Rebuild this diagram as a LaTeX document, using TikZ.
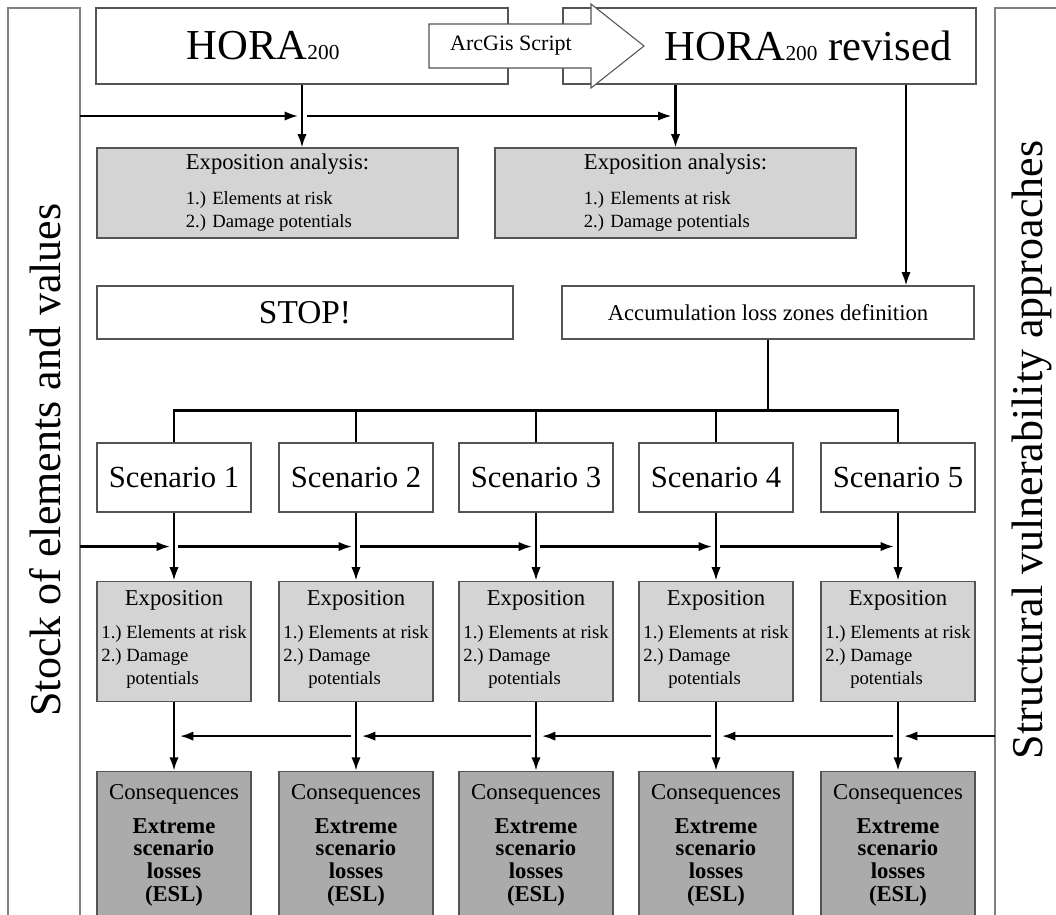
\documentclass[tikz,border=0pt]{standalone}
\usepackage{fontspec}
\setmainfont{Liberation Serif}
\usetikzlibrary{arrows.meta, positioning, calc}
\newlength{\unitpx}
\setlength{\unitpx}{0.75pt}
\tikzstyle{plainbox} = [rectangle, draw=black!67, line width=0.8pt, fill=white, inner sep=0pt]
\tikzstyle{horabox} = [plainbox, minimum width=412\unitpx, minimum height=76\unitpx, font=\fontsize{32}{32}\selectfont]
\tikzstyle{widebox} = [plainbox, minimum width=416\unitpx, minimum height=53\unitpx]
\tikzstyle{expobig} = [plainbox, fill=black!17, minimum width=361\unitpx, minimum height=90\unitpx, align=left, font=\fontsize{14}{17.25}\selectfont]
\tikzstyle{scen} = [plainbox, minimum width=154\unitpx, minimum height=69\unitpx, font=\fontsize{23}{23}\selectfont]
\tikzstyle{expo} = [plainbox, fill=black!17, minimum width=154\unitpx, minimum height=120\unitpx, align=center, font=\fontsize{14}{17.25}\selectfont]
\tikzstyle{cons} = [plainbox, fill=black!33, minimum width=154\unitpx, minimum height=148\unitpx, align=center, font=\fontsize{17}{17}\selectfont]
\tikzstyle{flow} = [line width=1.6pt, -{Latex[length=10pt, width=7pt]}]
\tikzstyle{bus} = [line width=1.6pt]
\tikzstyle{panel} = [draw=black!50, line width=1.1pt]
\tikzstyle{side} = [rotate=90, inner sep=0pt, font=\fontsize{33}{33}\selectfont]
\newcommand{\hora}{HORA{\fontsize{16}{16}\selectfont 200}}
\newcommand{\expolist}{{\fontsize{17}{17}\selectfont Exposition}\\[8pt]\begin{tabular}[t]{@{}l@{\ }l@{}}1.)&Elements at risk\\2.)&Damage\\&potentials\end{tabular}}
\newcommand{\esltext}{Consequences\\[8.5pt]\textbf{Extreme}\\\textbf{scenario}\\\textbf{losses}\\\textbf{(ESL)}}
\begin{document}
\begin{tikzpicture}[x=0.75pt, y=-0.75pt]
\useasboundingbox (0,0) rectangle (1056,914);
\clip (0,0) rectangle (1056,914);

% side panels
\draw[panel] (8,930) |- (80,8) -- (80,930);
\draw[panel] (995,930) |- (1070,8);
\coordinate (panel-l) at (80,0);
\coordinate (panel-r) at (995,0);
\node[side] (stock) at (45.5,460) {Stock of elements and values};
\node[side] (struct) at (1032,450) {Structural vulnerability approaches};

% hazard maps
\node[horabox] (hora) at (302,46) {\hora\hspace*{78\unitpx}};
\node[horabox, minimum width=413\unitpx] (hora-rev) at (769.5,46) {\hspace*{77\unitpx}\hora{} revised};
\draw[draw=black!67, line width=0.8pt, fill=white] (429,24) -- (591,24) -- (591,4) -- (644,46) -- (591,88) -- (591,68) -- (429,68) -- cycle;
\node[font=\fontsize{16.5}{16.5}\selectfont] (arcgis) at (511,46) {ArcGis Script};

\node[expobig] (exp-a) at (277.5,193) {{\fontsize{17}{17}\selectfont Exposition analysis:}\\[9pt]1.) Elements at risk\\2.) Damage potentials};
\node[expobig] (exp-b) at (675.5,193) {{\fontsize{17}{17}\selectfont Exposition analysis:}\\[9pt]1.) Elements at risk\\2.) Damage potentials};

\node[widebox, font=\fontsize{25}{25}\selectfont] (stop) at (305,312.5) {STOP!};
\node[widebox, minimum width=412\unitpx, font=\fontsize{17}{17}\selectfont] (accum) at (768,312.5) {Accumulation loss zones definition};

\coordinate (t-1) at ($(hora.south)!0.5!(hora.south |- exp-a.north)$);
\coordinate (t-2) at (exp-b.north |- t-1);
\draw[flow] (hora.south) -- (hora.south |- exp-a.north);
\draw[flow] (exp-b.north |- hora-rev.south) -- (exp-b.north);
\draw[flow] ([xshift=136.5\unitpx]hora-rev.south) -- ([xshift=136.5\unitpx]hora-rev.south |- accum.north);
\draw[flow, shorten >=4\unitpx] (panel-l |- t-1) -- (t-1);
\draw[flow, shorten <=5\unitpx, shorten >=4\unitpx] (t-1) -- (t-2);

% scenarios
\node[scen] (scen-1) at (174,477.5) {Scenario 1};
\node[scen] (scen-2) at (356,477.5) {Scenario 2};
\node[scen] (scen-3) at (536,477.5) {Scenario 3};
\node[scen] (scen-4) at (716,477.5) {Scenario 4};
\node[scen] (scen-5) at (898,477.5) {Scenario 5};

\coordinate (fork) at ($(accum.south)+(0,71)$);
\draw[bus] (accum.south) -- (fork);
\draw[bus] (scen-1.north) |- (fork -| scen-5.north) -- (scen-5.north);
\draw[bus] (scen-2.north) -- (scen-2.north |- fork);
\draw[bus] (scen-3.north) -- (scen-3.north |- fork);
\draw[bus] (scen-4.north) -- (scen-4.north |- fork);

\node[expo, below=68\unitpx of scen-1] (exp-1) {\expolist};
\node[expo, below=68\unitpx of scen-2] (exp-2) {\expolist};
\node[expo, below=68\unitpx of scen-3] (exp-3) {\expolist};
\node[expo, below=68\unitpx of scen-4] (exp-4) {\expolist};
\node[expo, below=68\unitpx of scen-5] (exp-5) {\expolist};

\node[cons, below=69\unitpx of exp-1] (cons-1) {\esltext};
\node[cons, below=69\unitpx of exp-2] (cons-2) {\esltext};
\node[cons, below=69\unitpx of exp-3] (cons-3) {\esltext};
\node[cons, below=69\unitpx of exp-4] (cons-4) {\esltext};
\node[cons, below=69\unitpx of exp-5] (cons-5) {\esltext};

\draw[flow] (scen-1) -- (exp-1);
\draw[flow] (scen-2) -- (exp-2);
\draw[flow] (scen-3) -- (exp-3);
\draw[flow] (scen-4) -- (exp-4);
\draw[flow] (scen-5) -- (exp-5);
\draw[flow] (exp-1) -- (cons-1);
\draw[flow] (exp-2) -- (cons-2);
\draw[flow] (exp-3) -- (cons-3);
\draw[flow] (exp-4) -- (cons-4);
\draw[flow] (exp-5) -- (cons-5);

% stock of elements, left to right
\coordinate (j-1) at ($(scen-1.south)!0.5!(exp-1.north)$);
\coordinate (j-2) at ($(scen-2.south)!0.5!(exp-2.north)$);
\coordinate (j-3) at ($(scen-3.south)!0.5!(exp-3.north)$);
\coordinate (j-4) at ($(scen-4.south)!0.5!(exp-4.north)$);
\coordinate (j-5) at ($(scen-5.south)!0.5!(exp-5.north)$);
\draw[flow, shorten >=4\unitpx] (panel-l |- j-1) -- (j-1);
\draw[flow, shorten <=4\unitpx, shorten >=4\unitpx] (j-1) -- (j-2);
\draw[flow, shorten <=4\unitpx, shorten >=4\unitpx] (j-2) -- (j-3);
\draw[flow, shorten <=4\unitpx, shorten >=4\unitpx] (j-3) -- (j-4);
\draw[flow, shorten <=4\unitpx, shorten >=4\unitpx] (j-4) -- (j-5);

% vulnerability, right to left
\coordinate (k-1) at ($(exp-1.south)!0.5!(cons-1.north)$);
\coordinate (k-2) at ($(exp-2.south)!0.5!(cons-2.north)$);
\coordinate (k-3) at ($(exp-3.south)!0.5!(cons-3.north)$);
\coordinate (k-4) at ($(exp-4.south)!0.5!(cons-4.north)$);
\coordinate (k-5) at ($(exp-5.south)!0.5!(cons-5.north)$);
\draw[flow, shorten >=6\unitpx] (panel-r |- k-5) -- (k-5);
\draw[flow, shorten <=5\unitpx, shorten >=6\unitpx] (k-5) -- (k-4);
\draw[flow, shorten <=5\unitpx, shorten >=6\unitpx] (k-4) -- (k-3);
\draw[flow, shorten <=5\unitpx, shorten >=6\unitpx] (k-3) -- (k-2);
\draw[flow, shorten <=5\unitpx, shorten >=6\unitpx] (k-2) -- (k-1);

\end{tikzpicture}
\end{document}
